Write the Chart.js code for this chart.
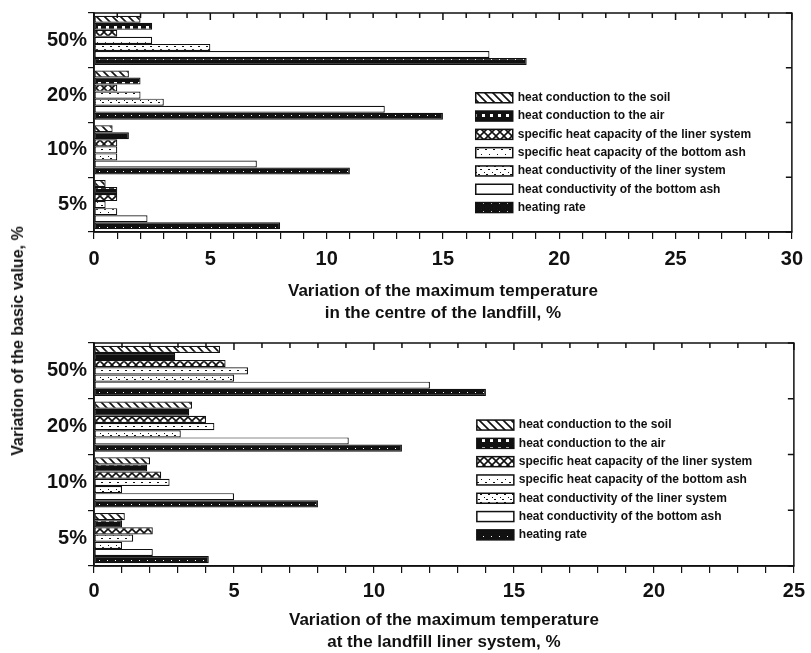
<!DOCTYPE html>
<html>
<head>
<meta charset="utf-8">
<script src="https://cdn.jsdelivr.net/npm/chart.js@4.4.1/dist/chart.umd.min.js"></script>
<style>
  html, body { margin: 0; padding: 0; background: #fff; }
  #wrap { position: relative; width: 811px; height: 653px; overflow: hidden; }
  #topChart { position: absolute; left: 0; top: 0; }
  #bottomChart { position: absolute; left: 0; top: 325px; }
  #ytitle {
    position: absolute; left: 18px; top: 341px;
    transform: translate(-50%, -50%) rotate(-90deg);
    font: bold 16px 'Liberation Sans', Arial, sans-serif;
    color: #111; white-space: nowrap;
  }
</style>
</head>
<body>
<div id="wrap">
  <canvas id="topChart" width="811" height="325"></canvas>
  <canvas id="bottomChart" width="811" height="328"></canvas>
  <div id="ytitle">Variation of the basic value, %</div>
</div>
<script>
const categories = ['50%', '20%', '10%', '5%'];
const seriesNames = [
    'heat conduction to the soil',
    'heat conduction to the air',
    'specific heat capacity of the liner system',
    'specific heat capacity of the bottom ash',
    'heat conductivity of the liner system',
    'heat conductivity of the bottom ash',
    'heating rate'
];

// maximum temperature in the centre of the landfill
const centreSoil = [2.0, 1.5, 0.8, 0.5];
const centreAir = [2.5, 2.0, 1.5, 1.0];
const centreLinerCapacity = [1.0, 1.0, 1.0, 1.0];
const centreAshCapacity = [2.5, 2.0, 1.0, 0.5];
const centreLinerConductivity = [5.0, 3.0, 1.0, 1.0];
const centreAshConductivity = [17.0, 12.5, 7.0, 2.3];
const centreHeatingRate = [18.6, 15.0, 11.0, 8.0];

// maximum temperature at the landfill liner system
const linerSoil = [4.5, 3.5, 2.0, 1.1];
const linerAir = [2.9, 3.4, 1.9, 1.0];
const linerLinerCapacity = [4.7, 4.0, 2.4, 2.1];
const linerAshCapacity = [5.5, 4.3, 2.7, 1.4];
const linerLinerConductivity = [5.0, 3.1, 1.0, 1.0];
const linerAshConductivity = [12.0, 9.1, 5.0, 2.1];
const linerHeatingRate = [14.0, 11.0, 8.0, 4.1];

const centreMax = 30;
const linerMax = 25;

const INK = '#111';
const FONT = "'Liberation Sans', Arial, sans-serif";

// small fill patterns like the printed hatchings
function makePattern(kind){
    const c = document.createElement('canvas');
    c.width = 8; c.height = 8;
    const g = c.getContext('2d');
    g.fillStyle = '#fff';
    g.fillRect(0, 0, 8, 8);
    g.strokeStyle = INK;
    g.fillStyle = INK;
    g.lineWidth = 1.6;
    if (kind === 'diag') {
        g.beginPath();
        g.moveTo(-1, -1); g.lineTo(9, 9);
        g.moveTo(-1, 7); g.lineTo(1, 9);
        g.moveTo(7, -1); g.lineTo(9, 1);
        g.stroke();
    } else if (kind === 'squares') {
        g.fillRect(0, 0, 8, 8);
        g.fillStyle = '#fff';
        g.fillRect(2, 2, 3, 3);
    } else if (kind === 'cross') {
        g.beginPath();
        g.moveTo(-1, -1); g.lineTo(9, 9);
        g.moveTo(9, -1); g.lineTo(-1, 9);
        g.stroke();
    } else if (kind === 'dots') {
        g.fillRect(1, 2, 1, 1);
        g.fillRect(5, 5, 2, 1);
    } else if (kind === 'fine') {
        g.fillRect(0, 1, 2, 1);
        g.fillRect(4, 4, 1, 1);
        g.fillRect(6, 6, 2, 1);
    } else if (kind === 'dark') {
        g.fillRect(0, 0, 8, 8);
        g.fillStyle = '#fff';
        g.fillRect(3, 3, 1, 1);
    }
    return g.createPattern(c, 'repeat');
}

const fills = ['diag', 'squares', 'cross', 'dots', 'fine', 'plain', 'dark'].map(makePattern);

const framePlugin = {
    id: 'frame',
    afterDraw(chart){
        const {ctx, chartArea: a, scales: {x, y}} = chart;
        ctx.save();
        ctx.strokeStyle = INK;
        ctx.lineWidth = 1.5;
        ctx.strokeRect(a.left, a.top, a.right - a.left, a.bottom - a.top);
        ctx.beginPath();
        x.ticks.forEach(t => {
            const px = x.getPixelForValue(t.value);
            ctx.moveTo(px, a.top);
            ctx.lineTo(px, a.top + (t.value % 5 === 0 ? 7 : 5));
        });
        for (let i = 0; i <= categories.length; i++) {
            const py = y.getPixelForValue(i - 0.5);
            ctx.moveTo(a.right, py);
            ctx.lineTo(a.right - 6, py);
        }
        ctx.stroke();
        ctx.restore();
    }
};

const patternLegend = {
    id: 'patternLegend',
    afterDraw(chart, args, opts){
        const {ctx, chartArea: a} = chart;
        const left = a.left + opts.left * (a.right - a.left);
        let cy = a.top + opts.top * (a.bottom - a.top);
        ctx.save();
        ctx.font = 'bold 12px ' + FONT;
        ctx.textBaseline = 'middle';
        chart.data.datasets.forEach(ds => {
            ctx.fillStyle = ds.backgroundColor;
            ctx.fillRect(left, cy - 5, 37, 10);
            ctx.strokeStyle = INK;
            ctx.lineWidth = 1.5;
            ctx.strokeRect(left, cy - 5, 37, 10);
            ctx.fillStyle = INK;
            ctx.fillText(ds.label, left + 42, cy);
            cy += opts.step;
        });
        ctx.restore();
    }
};

function plot_sensitivity(canvas_id, series, max, titleLines, geo){
    const ctx = document.getElementById(canvas_id).getContext('2d');
    const datasets = series.map((values, i) => ({
        label: seriesNames[i],
        data: values,
        backgroundColor: fills[i],
        borderColor: INK,
        borderWidth: 1.2,
        borderSkipped: false,
        categoryPercentage: 0.9,
        barPercentage: 1.0
    }));
    return new Chart(ctx, {
        type: 'bar',
        data: { labels: categories, datasets: datasets },
        options: {
            indexAxis: 'y',
            responsive: false,
            animation: false,
            events: [],
            layout: { padding: { top: geo.top, right: 14, left: 0, bottom: 0 } },
            plugins: {
                legend: { display: false },
                tooltip: { enabled: false },
                patternLegend: { left: 0.547, top: geo.legendTop, step: 18.3 }
            },
            scales: {
                x: {
                    type: 'linear',
                    min: 0,
                    max: max,
                    border: { display: true, color: INK, width: 1.5 },
                    grid: { drawOnChartArea: false, drawTicks: true, tickLength: 7, color: INK, lineWidth: 1.2 },
                    ticks: {
                        stepSize: 1,
                        autoSkip: false,
                        maxRotation: 0,
                        padding: geo.tickPad,
                        color: INK,
                        font: { family: FONT, size: 20, weight: 'bold' },
                        callback: v => (v % 5 === 0 ? v : '')
                    },
                    title: {
                        display: true,
                        text: titleLines,
                        color: INK,
                        font: { family: FONT, size: 17, weight: 'bold', lineHeight: 1.3 },
                        padding: { top: 0, bottom: geo.titlePad }
                    },
                    afterFit: s => { s.height = geo.axisHeight; }
                },
                y: {
                    type: 'category',
                    offset: true,
                    border: { display: true, color: INK, width: 1.5 },
                    grid: { offset: true, drawOnChartArea: false, tickLength: 6, color: INK, lineWidth: 1.2 },
                    ticks: { padding: 1, color: INK, font: { family: FONT, size: 20, weight: 'bold' } },
                    afterFit: s => { s.width = 94; }
                }
            }
        },
        plugins: [framePlugin, patternLegend]
    });
}

plot_sensitivity('topChart',
    [centreSoil, centreAir, centreLinerCapacity, centreAshCapacity,
     centreLinerConductivity, centreAshConductivity, centreHeatingRate],
    centreMax,
    ['Variation of the maximum temperature', 'in the centre of the landfill, %'],
    { top: 13, axisHeight: 93, tickPad: 8, titlePad: 1, legendTop: 0.387 });

plot_sensitivity('bottomChart',
    [linerSoil, linerAir, linerLinerCapacity, linerAshCapacity,
     linerLinerConductivity, linerAshConductivity, linerHeatingRate],
    linerMax,
    ['Variation of the maximum temperature', 'at the landfill liner system, %'],
    { top: 18, axisHeight: 87, tickPad: 6, titlePad: 0, legendTop: 0.368 });
</script>
</body>
</html>
